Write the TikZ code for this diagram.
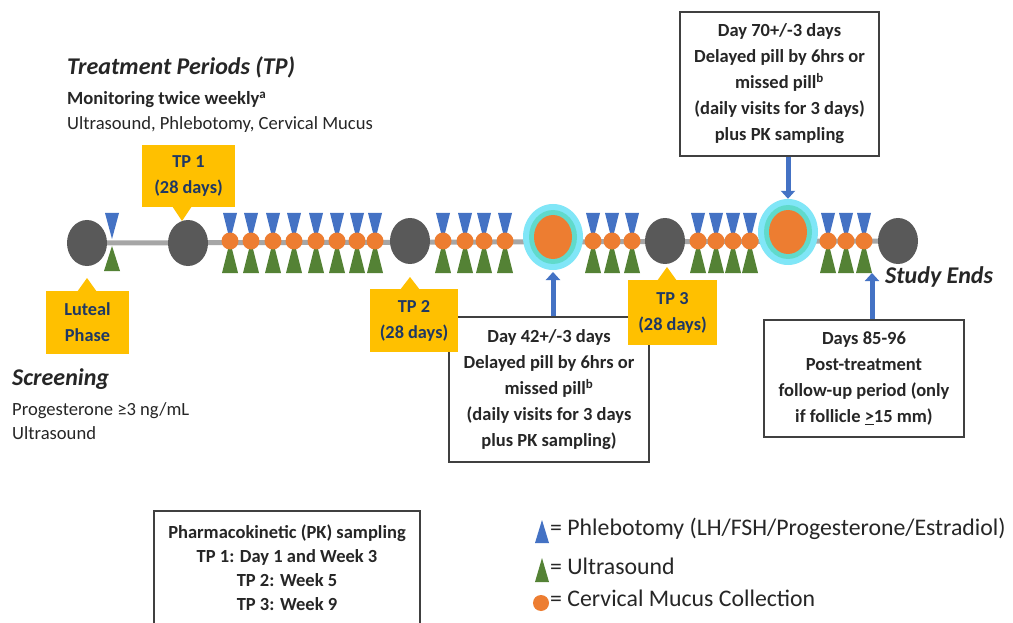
\documentclass[tikz,border=0pt]{standalone}
\usepackage{fontspec}
\setmainfont{Carlito}
\usetikzlibrary{shapes.geometric,arrows.meta,backgrounds}
\definecolor{bluetri}{HTML}{4472C4}
\definecolor{greentri}{HTML}{548235}
\definecolor{orng}{HTML}{ED7D31}
\definecolor{grayc}{HTML}{595959}
\definecolor{linegray}{HTML}{A6A6A6}
\definecolor{yel}{HTML}{FFC000}
\definecolor{navy}{HTML}{1F3864}
\definecolor{cyanout}{HTML}{80E6F7}
\definecolor{tealmid}{HTML}{60DACB}
\definecolor{txt}{HTML}{262626}
\definecolor{boxline}{HTML}{404040}
\tikzset{
  graydot/.style={ellipse,fill=grayc,minimum width=40pt,minimum height=46pt,inner sep=0pt},
  bigout/.style={ellipse,fill=cyanout,minimum width=60pt,minimum height=66pt,inner sep=0pt},
  bigmid/.style={ellipse,fill=tealmid,minimum width=48pt,minimum height=54pt,inner sep=0pt},
  bigin/.style={ellipse,fill=orng,minimum width=38pt,minimum height=44pt,inner sep=0pt},
  tline/.style={draw=linegray,line width=5pt},
  visit/.pic={
    \fill[bluetri] (-7,-28) -- (7,-28) -- (0,0) -- cycle;
    \fill[greentri] (-8,32) -- (8,32) -- (0,0) -- cycle;
    \fill[orng] (0,0) circle[radius=8.5pt];
  },
  visitnodot/.pic={
    \fill[bluetri] (-7,-28) -- (7,-28) -- (0,-2) -- cycle;
    \fill[greentri] (-8,30) -- (8,30) -- (0,5) -- cycle;
  },
  ybox/.style={fill=yel,text=navy,align=center,inner sep=0pt,
    font=\bfseries\fontsize{18.3}{26}\selectfont},
  yptr/.style={fill=yel},
  wbox/.style={draw=boxline,line width=1.2pt,fill=white,align=center,inner sep=0pt,text=txt,
    font=\bfseries\fontsize{18.5}{26}\selectfont},
  arr/.style={draw=bluetri,line width=5pt,-{Triangle[width=14pt,length=8pt]}},
  lbl/.style={anchor=west,inner sep=0pt,text=txt,text height=0.7em,text depth=0.2em},
  ttlfont/.style={font=\bfseries\itshape\fontsize{24}{28}\selectfont},
  bodyfont/.style={font=\fontsize{18.6}{22}\selectfont},
  legfont/.style={font=\fontsize{23.8}{26}\selectfont},
}
\begin{document}
\begin{tikzpicture}[x=1pt,y=-1pt]
\useasboundingbox (0,0) rectangle (1013,623);
\clip (0,0) rectangle (1013,623);

% header texts
\node[lbl,ttlfont] (ttl) at (67,72) {Treatment Periods (TP)};
\node[lbl,bodyfont,font=\bfseries\fontsize{18.6}{22}\selectfont] (mon) at (67,102) {Monitoring twice weekly\textsuperscript{a}};
\node[lbl,bodyfont] (mod) at (67,127) {Ultrasound, Phlebotomy, Cervical Mucus};

% timeline nodes
\node[graydot] (g1) at (87,243) {};
\node[graydot] (g2) at (188,243) {};
\node[graydot] (g3) at (410,241) {};
\node[graydot] (g4) at (665,241) {};
\node[graydot] (g5) at (898,241) {};
\begin{pgfonlayer}{background}
\fill[white] (0,0) rectangle (1013,623);
\draw[tline] (g1.center) -- (g5.center);
\end{pgfonlayer}

\node[bigout] (bc1) at (553,237) {};
\node[bigmid] (bc1m) at (bc1) {};
\node[bigin] (bc1i) at (bc1) {};
\node[bigout] (bc2) at (788,232) {};
\node[bigmid] (bc2m) at (bc2) {};
\node[bigin] (bc2i) at (bc2) {};

\pic at (112,241) {visitnodot};
\foreach \x in {230,251,273,294,316,337,357,375,443,465,484,505,593,612,632,698,716,733,750,828,846,864}
  \pic at (\x,241) {visit};

% white boxes
\node[wbox,minimum width=199pt,minimum height=144pt] (d70) at (779.5,84)
  {Day 70+/-3 days\\Delayed pill by 6hrs or\\missed pill\textsuperscript{b}\\(daily visits for 3 days)\\plus PK sampling};
\node[wbox,minimum width=200pt,minimum height=145pt] (d42) at (549,389.5)
  {Day 42+/-3 days\\Delayed pill by 6hrs or\\missed pill\textsuperscript{b}\\(daily visits for 3 days\\plus PK sampling)};
\node[wbox,minimum width=200pt,minimum height=117pt] (d85) at (864,378.5)
  {Days 85-96\\Post-treatment\\follow-up period (only\\if follicle \underline{>}15 mm)};

% yellow callouts
\node[ybox,minimum width=93pt,minimum height=62pt] (tp1) at (188.5,176) {TP 1\\(28 days)};
\fill[yptr] (172,206) -- (182,221) -- (192,206) -- cycle;
\node[ybox,minimum width=83pt,minimum height=63pt] (lut) at (87.5,322.5) {Luteal\\Phase};
\fill[yptr] (77,292) -- (87,278) -- (97,292) -- cycle;
\node[ybox,minimum width=88pt,minimum height=63pt] (tp2) at (414,320.5) {TP 2\\(28 days)};
\fill[yptr] (400,290) -- (410,277) -- (420,290) -- cycle;
\node[ybox,minimum width=89pt,minimum height=65pt] (tp3) at (672.5,312.5) {TP 3\\(28 days)};
\fill[yptr] (657,281) -- (667,267) -- (677,281) -- cycle;

% arrows
\coordinate (se) at (872,273);
\coordinate (a1) at (553,272);
\draw[arr] (d70.south -| bc2) -- (bc2.north);
\draw[arr] (d42.north -| a1) -- (a1);
\draw[arr] (d85.north -| se) -- (se);
\node[lbl,ttlfont] (send) at (885,281) {Study Ends};

% screening
\node[lbl,ttlfont] (scr) at (12,383) {Screening};
\node[lbl,bodyfont] (prog) at (12,413) {Progesterone ≥3 ng/mL};
\node[lbl,bodyfont] (us) at (12,437) {Ultrasound};

% PK box
\node[draw=boxline,line width=1.2pt,minimum width=266pt,minimum height=150pt,inner sep=0pt] (pkframe) at (287,586) {};
\node[align=center,inner sep=0pt,text=txt,font=\bfseries\fontsize{18.5}{24}\selectfont] (pk) at (287,568)
  {Pharmacokinetic (PK) sampling\\TP 1: Day 1 and Week 3\\TP 2: Week 5\\TP 3: Week 9};

% legend
\fill[bluetri] (535,543) -- (549,543) -- (542,520) -- cycle;
\node[lbl,legfont] (lg1) at (550,533) {= Phlebotomy (LH/FSH/Progesterone/Estradiol)};
\fill[greentri] (535,582) -- (549,582) -- (542,558) -- cycle;
\node[lbl,legfont] (lg2) at (550,572) {= Ultrasound};
\fill[orng] (541,603) circle[radius=8pt];
\node[lbl,legfont] (lg3) at (550,604) {= Cervical Mucus Collection};
\end{tikzpicture}
\end{document}
